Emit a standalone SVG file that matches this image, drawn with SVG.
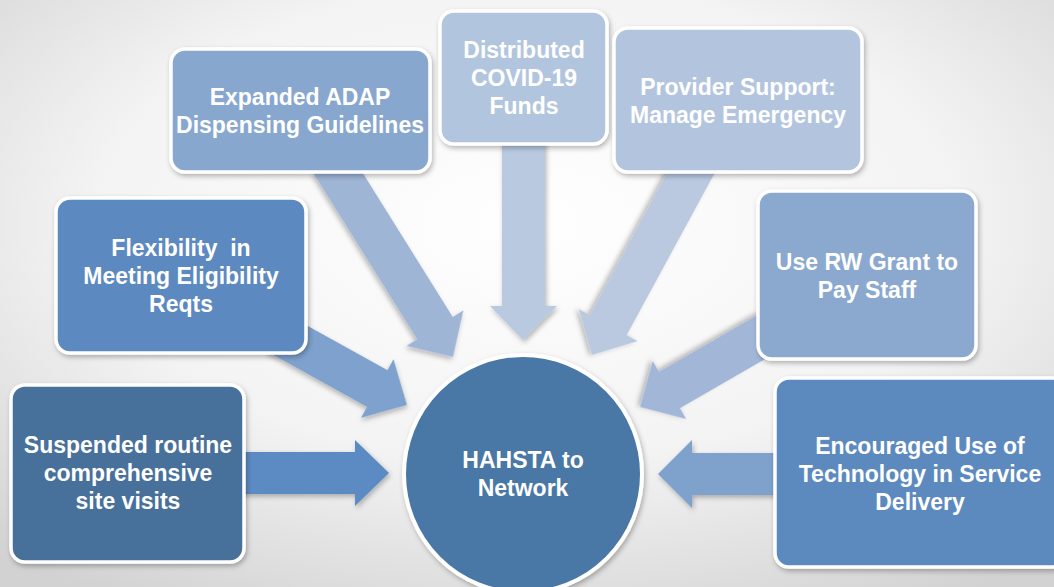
<svg xmlns="http://www.w3.org/2000/svg" width="1054" height="587" viewBox="0 0 1054 587">
<defs>
<radialGradient id="bg" cx="50%" cy="38%" r="75%">
<stop offset="0" stop-color="#ffffff"/>
<stop offset="0.55" stop-color="#f3f3f3"/>
<stop offset="1" stop-color="#d2d2d2"/>
</radialGradient>
<filter id="sh" x="-20%" y="-20%" width="140%" height="140%">
<feDropShadow dx="1.5" dy="2.5" stdDeviation="2.5" flood-color="#000" flood-opacity="0.28"/>
</filter>
<path id="arr" d="M -200,-21 L -34,-21 L -34,-33.5 L 0,0 L -34,33.5 L -34,21 L -200,21 Z"/>
</defs>
<style>
.box{stroke:#ffffff;stroke-width:3.5;filter:url(#sh)}
.t{font-family:"Liberation Sans",Arial,sans-serif;font-weight:bold;font-size:23px;fill:#ffffff;text-anchor:middle;white-space:pre}
.a{filter:url(#sh)}
</style>
<rect x="0" y="0" width="1054" height="587" fill="url(#bg)"/>
<g id="connectors">
<path class="a" fill="#5b8bc3" d="M 230,452 L 355,452 L 355,440 L 389,473 L 355,506 L 355,494 L 230,494 Z"/>
<path class="a" fill="#7ea2cc" d="M 790,453 L 692,453 L 692,440 L 658,474 L 692,508 L 692,495 L 790,495 Z"/>
<path class="a" fill="#b8c9e0" d="M 502,130 L 502,306 L 490,306 L 523,340 L 557,306 L 545,306 L 545,130 Z"/>
<path class="a" fill="#7ea2cd" transform="translate(407,405) rotate(29)" d="M -150,-21 L -34,-21 L -34,-33.5 L 0,0 L -34,33.5 L -34,21 L -150,21 Z"/>
<path class="a" fill="#9fb5d6" transform="translate(453,357) rotate(58)" d="M -230,-21 L -34,-21 L -34,-33.5 L 0,0 L -34,33.5 L -34,21 L -230,21 Z"/>
<path class="a" fill="#bac9e0" transform="translate(592,355) rotate(118.5)" d="M -220,-21 L -34,-21 L -34,-33.5 L 0,0 L -34,33.5 L -34,21 L -220,21 Z"/>
<path class="a" fill="#a2b7d8" transform="translate(640,407) rotate(150)" d="M -150,-21 L -34,-21 L -34,-33.5 L 0,0 L -34,33.5 L -34,21 L -150,21 Z"/>
</g>
<g id="node-suspended">
<rect class="box" x="11" y="385" width="233" height="177" rx="14" fill="#466f9b"/>
<text class="t" x="128" y="453">Suspended routine</text>
<text class="t" x="128" y="481">comprehensive</text>
<text class="t" x="128" y="509">site visits</text>
</g>
<g id="node-flexibility">
<rect class="box" x="56" y="198" width="250" height="155" rx="14" fill="#5b89bf"/>
<text class="t" x="181" y="256">Flexibility  in</text>
<text class="t" x="181" y="284">Meeting Eligibility</text>
<text class="t" x="181" y="312">Reqts</text>
</g>
<g id="node-adap">
<rect class="box" x="171" y="49" width="259" height="123" rx="14" fill="#88a7cf"/>
<text class="t" x="300" y="105">Expanded ADAP</text>
<text class="t" x="300" y="133">Dispensing Guidelines</text>
</g>
<g id="node-covid">
<rect class="box" x="440" y="11" width="167" height="133" rx="14" fill="#b2c5de"/>
<text class="t" x="524" y="58">Distributed</text>
<text class="t" x="524" y="86">COVID-19</text>
<text class="t" x="524" y="114">Funds</text>
</g>
<g id="node-provider">
<rect class="box" x="614" y="28" width="248" height="144" rx="14" fill="#b3c5de"/>
<text class="t" x="738" y="95">Provider Support:</text>
<text class="t" x="738" y="123">Manage Emergency</text>
</g>
<g id="node-rw">
<rect class="box" x="758" y="191" width="218" height="168" rx="14" fill="#8ba9cf"/>
<text class="t" x="867" y="270">Use RW Grant to</text>
<text class="t" x="867" y="298">Pay Staff</text>
</g>
<g id="node-technology">
<rect class="box" x="775" y="378" width="292" height="189" rx="14" fill="#5b8abe"/>
<text class="t" x="920" y="454">Encouraged Use of</text>
<text class="t" x="920" y="482">Technology in Service</text>
<text class="t" x="920" y="510">Delivery</text>
</g>
<g id="node-hahsta">
<circle cx="523" cy="474" r="119" fill="#4a77a6" stroke="#ffffff" stroke-width="4" filter="url(#sh)"/>
<text class="t" x="523" y="468">HAHSTA to</text>
<text class="t" x="523" y="496">Network</text>
</g>
</svg>
